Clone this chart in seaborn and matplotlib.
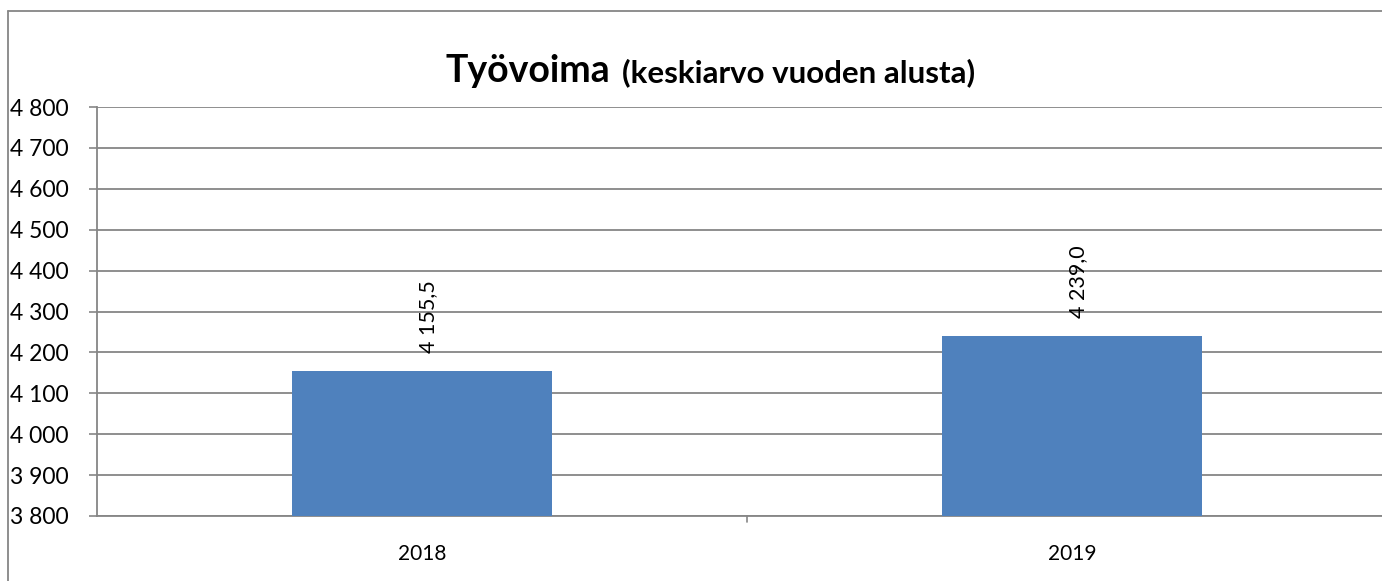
import matplotlib
matplotlib.use("Agg")
import matplotlib.pyplot as plt
import seaborn as sns
import pandas as pd
from matplotlib.lines import Line2D

years = ["2018", "2019"]
values = [4155.5, 4239.0]
yticks = [3800, 3900, 4000, 4100, 4200, 4300, 4400, 4500, 4600, 4700, 4800]

df = pd.DataFrame({"vuosi": years, "tyovoima": values})

sns.set_style("white")
plt.rcParams["font.family"] = ["Lato", "DejaVu Sans"]
plt.rcParams["text.color"] = "black"
plt.rcParams["xtick.color"] = "black"
plt.rcParams["ytick.color"] = "black"

W, H = 1382, 581
fig = plt.figure(figsize=(W / 100, H / 100), dpi=100)
ax = fig.add_axes([97 / W, 1 - 516 / H, 1300 / W, (516 - 107) / H])

sns.barplot(data=df, x="vuosi", y="tyovoima", color="#4F81BD", width=0.4,
            saturation=1, linewidth=0, ax=ax, zorder=3)

ax.set_ylim(3800, 4800)
ax.set_xlim(-0.5, 1.5)
ax.set_yticks(yticks)
ax.set_yticklabels([f"{v:,}".replace(",", " ") for v in yticks], fontsize=16.5)
for t in ax.get_yticklabels():
    t.set_horizontalalignment("left")
ax.set_xticks([0, 1])
ax.set_xticklabels(years, fontsize=15)
ax.tick_params(axis="x", length=0, pad=20)
ax.tick_params(axis="y", length=6, width=1.2, color="#868686", direction="out",
               left=True, pad=(85 - 6) * 0.72)
ax.yaxis.grid(True, color="#868686", linewidth=1.3, zorder=0)
ax.set_xlabel("")
ax.set_ylabel("")
for s in ["top", "right"]:
    ax.spines[s].set_visible(False)
ax.spines["left"].set_color("#868686")
ax.spines["bottom"].set_color("#868686")
ax.spines["left"].set_linewidth(1.3)
ax.spines["bottom"].set_linewidth(1.3)

# tick between categories on x axis
ax.plot([0.5, 0.5], [0, -0.015], transform=ax.get_xaxis_transform(),
        color="#868686", lw=1.2, clip_on=False)

for i, v in enumerate(values):
    lab = f"{v:,.1f}".replace(",", " ").replace(".", ",")
    ax.text(i + 0.01, v + 44, lab, rotation=90, ha="center", va="bottom",
            fontsize=15.5, zorder=4)

fig.text(445 / W, 1 - 82 / H, "Työvoima", fontsize=27, fontweight="bold",
         ha="left", va="baseline")
fig.text(622 / W, 1 - 82 / H, "(keskiarvo vuoden alusta)", fontsize=22.5,
         fontweight="bold", ha="left", va="baseline")

# outer chart border (left and top edges visible)
fig.add_artist(Line2D([8 / W, 8 / W], [0, 1 - 11 / H], transform=fig.transFigure,
                      color="#868686", lw=1.3))
fig.add_artist(Line2D([8 / W, 1], [1 - 11 / H, 1 - 11 / H], transform=fig.transFigure,
                      color="#868686", lw=1.3))

fig.savefig("out.png", dpi=100)
